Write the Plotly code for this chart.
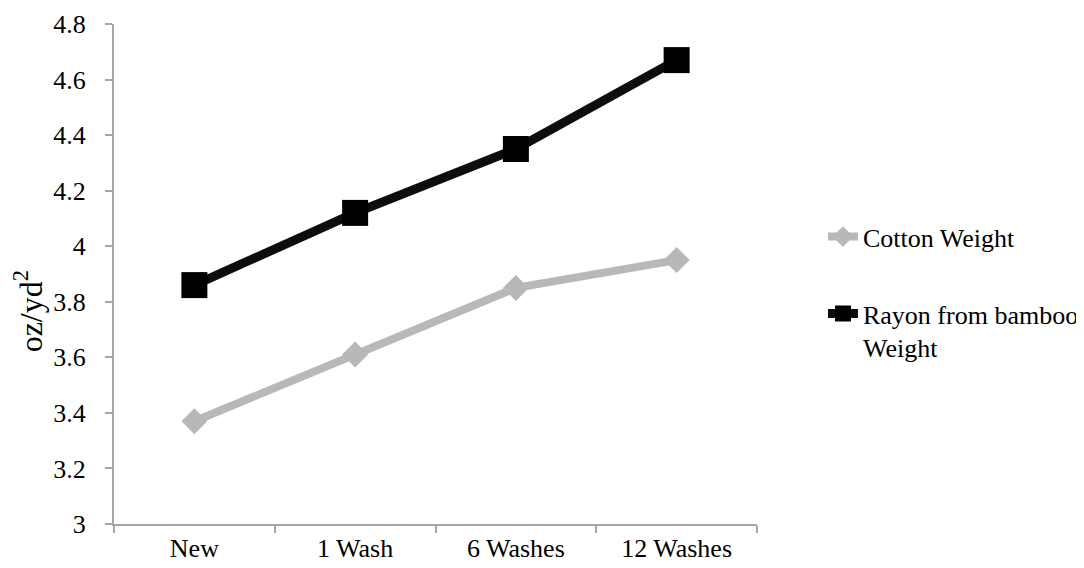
import plotly.graph_objects as go

categories = ["New", "1 Wash", "6 Washes", "12 Washes"]
cotton_weight = [3.37, 3.61, 3.85, 3.95]
rayon_weight = [3.86, 4.12, 4.35, 4.67]
y_tick_vals = [3, 3.2, 3.4, 3.6, 3.8, 4, 4.2, 4.4, 4.6, 4.8]
y_tick_text = ["3", "3.2", "3.4", "3.6", "3.8", "4", "4.2", "4.4", "4.6", "4.8"]

FONT = "Liberation Serif"
AXIS_COLOR = "#a6a6a6"

# The page body has an 8px default margin, so the figure is 8px smaller
# than the window and its margins are reduced accordingly.
fig = go.Figure()
fig.add_trace(go.Scatter(
    x=categories, y=cotton_weight, name="Cotton Weight",
    mode="lines+markers", legendgroup="a",
    line=dict(color="#b8b8b8", width=8),
    marker=dict(symbol="diamond", size=20, color="#b8b8b8"),
))
fig.add_trace(go.Scatter(
    x=categories, y=rayon_weight, name="Rayon from bamboo<br>Weight",
    mode="lines+markers", legendgroup="b",
    line=dict(color="#0d0d0d", width=9),
    marker=dict(symbol="square", size=26, color="#000000"),
))

fig.update_layout(
    width=1076, height=560,
    margin=dict(l=106, r=327, t=16, b=44, autoexpand=False),
    paper_bgcolor="white", plot_bgcolor="white",
    font=dict(family=FONT, size=26, color="black"),
    showlegend=True,
    legend=dict(
        x=1.1026, xanchor="left", y=0.6216, yanchor="top",
        font=dict(family=FONT, size=26, color="black"),
        valign="top", tracegroupgap=40,
        bgcolor="rgba(0,0,0,0)",
    ),
    xaxis=dict(
        type="category", showgrid=False, zeroline=False, automargin=False,
        showline=True, linecolor=AXIS_COLOR, linewidth=2,
        ticks="outside", tickson="boundaries", ticklen=7,
        tickcolor=AXIS_COLOR, tickwidth=2,
        tickfont=dict(family=FONT, size=26, color="black"),
        range=[-0.5, 3.5],
    ),
    yaxis=dict(
        range=[3, 4.8], showgrid=False, zeroline=False, automargin=False,
        showline=True, linecolor=AXIS_COLOR, linewidth=2,
        ticks="outside", ticklen=7, tickcolor=AXIS_COLOR, tickwidth=2,
        tickvals=y_tick_vals, ticktext=y_tick_text,
        tickfont=dict(family=FONT, size=26, color="black"),
        ticklabelstandoff=14,
    ),
    annotations=[dict(
        text="oz/yd<sup>2</sup>", textangle=-90,
        xref="paper", yref="paper",
        x=-0.134, y=0.425,
        xanchor="center", yanchor="middle", showarrow=False,
        font=dict(family=FONT, size=32, color="black"),
    )],
)

fig.write_html("out.html")
